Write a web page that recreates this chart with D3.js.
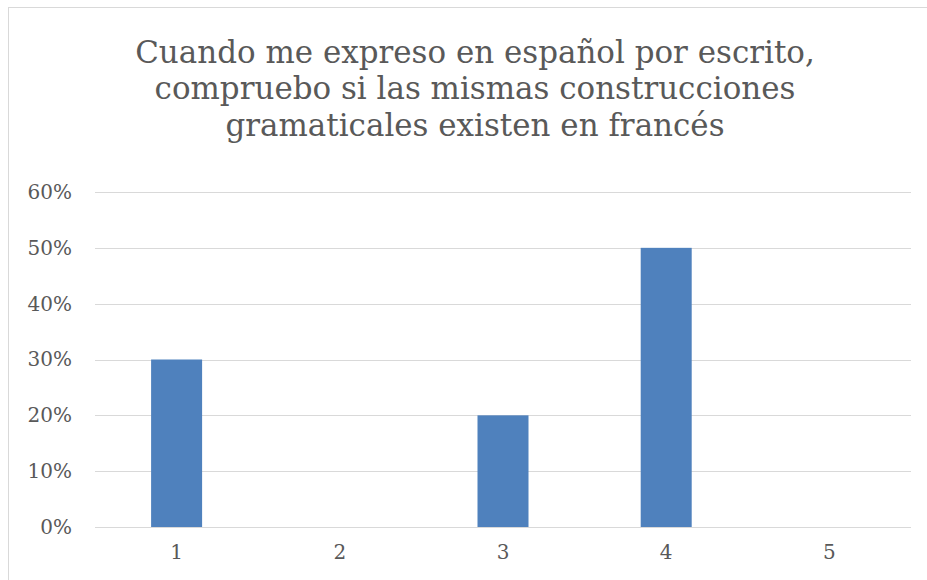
<!DOCTYPE html>
<html><head><meta charset="utf-8">
<script src="https://cdn.jsdelivr.net/npm/d3@7"></script>
<style>body{margin:0;background:#fff}svg{display:block}</style>
</head><body>
<svg id="c" width="927" height="580"></svg>
<script>
const titleLines = ["Cuando me expreso en español por escrito,", "compruebo si las mismas construcciones", "gramaticales existen en francés"];
const categories = ["1", "2", "3", "4", "5"];
const values = [0.30, 0, 0.20, 0.50, 0];
const yTicks = [0, 0.1, 0.2, 0.3, 0.4, 0.5, 0.6];

const svg = d3.select("#c");
const FONT = "'DejaVu Serif', 'Liberation Serif', serif";
const textColor = "#595959";

svg.append("rect").attr("x", 8.5).attr("y", 7.5).attr("width", 930).attr("height", 600)
  .attr("fill", "#fff").attr("stroke", "#d9d9d9").attr("stroke-width", 1);

const m = {left: 95, right: 911, top: 192, bottom: 527};
const x = d3.scaleBand().domain(categories).range([m.left, m.right]).paddingInner(0.6875).paddingOuter(0.34375);
const y = d3.scaleLinear().domain([0, 0.6]).range([m.bottom, m.top]);

// title
const tg = svg.append("g");
const t = tg.selectAll("text").data(titleLines).join("text")
  .attr("x", 475).attr("y", (d, i) => 62.5 + i * 36.5)
  .attr("text-anchor", "middle").attr("fill", textColor)
  .style("font-family", FONT).style("font-size", "30px").text(d => d);
const w0 = t.nodes()[0].getComputedTextLength();
t.style("font-size", (30 * 680 / w0) + "px");

// grid
svg.append("g").selectAll("line").data(yTicks).join("line")
  .attr("x1", m.left).attr("x2", m.right)
  .attr("y1", d => Math.round(y(d)) + 0.5).attr("y2", d => Math.round(y(d)) + 0.5)
  .attr("stroke", "#d9d9d9").attr("stroke-width", 1);

// bars
svg.append("g").selectAll("rect").data(values).join("rect")
  .attr("x", (d, i) => x(categories[i]))
  .attr("width", x.bandwidth())
  .attr("y", d => y(d))
  .attr("height", d => y(0) - y(d))
  .attr("fill", "#4F81BD");

// y axis labels
const yAxis = d3.axisLeft(y).tickValues(yTicks).tickFormat(d3.format(".0%")).tickSize(0).tickPadding(23);
const ya = svg.append("g").attr("transform", `translate(${m.left},0)`).call(yAxis);
ya.select(".domain").remove();
ya.selectAll("text").attr("fill", textColor).style("font-family", FONT).style("font-size", "20px");

// x axis labels
const xAxis = d3.axisBottom(x).tickSize(0).tickPadding(18);
const xa = svg.append("g").attr("transform", `translate(0,${m.bottom})`).call(xAxis);
xa.select(".domain").remove();
xa.selectAll("text").attr("fill", textColor).style("font-family", FONT).style("font-size", "20px");
</script>
</body></html>
